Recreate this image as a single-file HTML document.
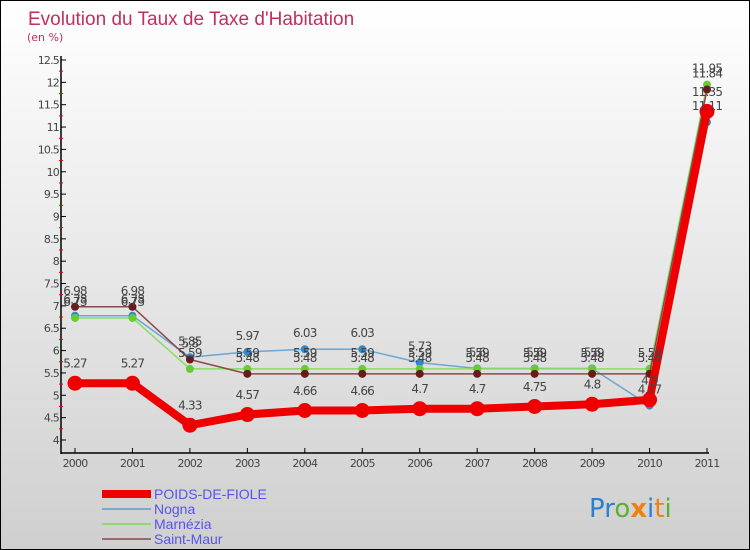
<!DOCTYPE html>
<html><head><meta charset="utf-8"><style>
body{margin:0;}
#wrap{width:748px;height:548px;border:1px solid #000;background:linear-gradient(#ffffff,#cfcfcf);position:relative;overflow:hidden;font-family:"DejaVu Sans","Liberation Sans",sans-serif;}
</style></head><body>
<div id="wrap">
<svg id="chart" width="748" height="548" xmlns="http://www.w3.org/2000/svg">
<text x="27" y="24" font-size="19" fill="#c0305f" font-family="Liberation Sans, sans-serif">Evolution du Taux de Taxe d'Habitation</text>
<text x="26" y="40" font-size="11" fill="#c0305f">(en %)</text>
<g id="axes"></g><g id="series"></g><g id="labels"></g>
<g>
<rect x="101" y="489" width="49" height="8" fill="#e00"/>
<text x="153" y="498" font-size="14" fill="#5555ee" font-family="Liberation Sans, sans-serif">POIDS-DE-FIOLE</text>
<line x1="101" y1="508" x2="150" y2="508" stroke="#7aaad0" stroke-width="2"/>
<text x="153" y="513" font-size="14" fill="#5555ee" font-family="Liberation Sans, sans-serif">Nogna</text>
<line x1="101" y1="523" x2="150" y2="523" stroke="#8fd870" stroke-width="2"/>
<text x="153" y="528" font-size="14" fill="#5555ee" font-family="Liberation Sans, sans-serif">Marnézia</text>
<line x1="101" y1="538" x2="150" y2="538" stroke="#9a6a6a" stroke-width="2"/>
<text x="153" y="543" font-size="14" fill="#5555ee" font-family="Liberation Sans, sans-serif">Saint-Maur</text>
</g>
<text x="588" y="516" font-size="26"><tspan fill="#2a7fd0">Pr</tspan><tspan fill="#5ab030">o</tspan><tspan fill="#f08010" font-weight="bold">x</tspan><tspan fill="#2a7fd0">i</tspan><tspan fill="#f08010">t</tspan><tspan fill="#5ab030">i</tspan></text>
</svg>
</div>
<script>
const years=["2000","2001","2002","2003","2004","2005","2006","2007","2008","2009","2010","2011"];
const yTicks=[4,4.5,5,5.5,6,6.5,7,7.5,8,8.5,9,9.5,10,10.5,11,11.5,12,12.5];
const poids=[5.27,5.27,4.33,4.57,4.66,4.66,4.7,4.7,4.75,4.8,4.9,11.35];
const nogna=[6.78,6.78,5.85,5.97,6.03,6.03,5.73,5.60,5.60,5.60,4.77,11.11];
const marnezia=[6.73,6.73,5.59,5.59,5.59,5.59,5.59,5.59,5.59,5.59,5.59,11.95];
const saintMaur=[6.98,6.98,5.80,5.48,5.48,5.48,5.48,5.48,5.48,5.48,5.48,11.84];
const NS="http://www.w3.org/2000/svg";
const X=i=>74+i*(706-74)/11;
const Y=v=>439-(v-4)*(380/8.5);
function mk(tag,attrs,parent){const e=document.createElementNS(NS,tag);for(const k in attrs)e.setAttribute(k,attrs[k]);parent.appendChild(e);return e;}
const ax=document.getElementById('axes');
let yl=mk('line',{x1:60,y1:55,x2:60,y2:453,stroke:'#000','stroke-width':1.5},ax);


let xl=mk('line',{x1:60,y1:452,x2:708,y2:452,stroke:'#000','stroke-width':1.5},ax);


yTicks.forEach(v=>{
 mk('line',{x1:60,y1:Y(v),x2:65,y2:Y(v),stroke:'#000'},ax);
 if(v<12.5) mk('line',{x1:58,y1:Y(v+0.25),x2:62,y2:Y(v+0.25),stroke:'#e00'},ax);
 const t=mk('text',{x:58,y:Y(v)+4,'font-size':11,fill:'#444','text-anchor':'end','letter-spacing':'-0.8'},ax);
 t.textContent=String(v);
 
 
});
years.forEach((yr,i)=>{
 mk('line',{x1:X(i),y1:447,x2:X(i),y2:452,stroke:'#000'},ax);
 const t=mk('text',{x:X(i),y:466,'font-size':11,fill:'#444','text-anchor':'middle','letter-spacing':'-0.8'},ax);
 t.textContent=yr;
 
 
});
const sg=document.getElementById('series'),lg=document.getElementById('labels');
function series(data,name,color,dot,w,r){
 const g=mk('g',{},sg);
 
 
 mk('polyline',{points:data.map((v,i)=>X(i)+','+Y(v)).join(' '),fill:'none',stroke:color,'stroke-width':w,'stroke-linejoin':'round'},g);
 data.forEach((v,i)=>{
  const c=mk('circle',{cx:X(i),cy:Y(v),r:r,fill:dot},g);
  
  
  const t=mk('text',{x:X(i),y:Y(v)-(r+8),'font-size':12,fill:'#444','text-anchor':'middle','letter-spacing':'-0.8'},lg);
  t.textContent=String(v);
  
  
 });
}
series(nogna,'nogna','#6aa6d6','#3388cc',1.5,4);
series(marnezia,'marnezia','#88dd66','#66cc33',1.5,4);
series(saintMaur,'saint-maur','#8a4a4a','#6a1a1a',1.5,4);
series(poids,'poids-de-fiole','#ee0000','#ee0000',8,7.5);
</script>
</body></html>
